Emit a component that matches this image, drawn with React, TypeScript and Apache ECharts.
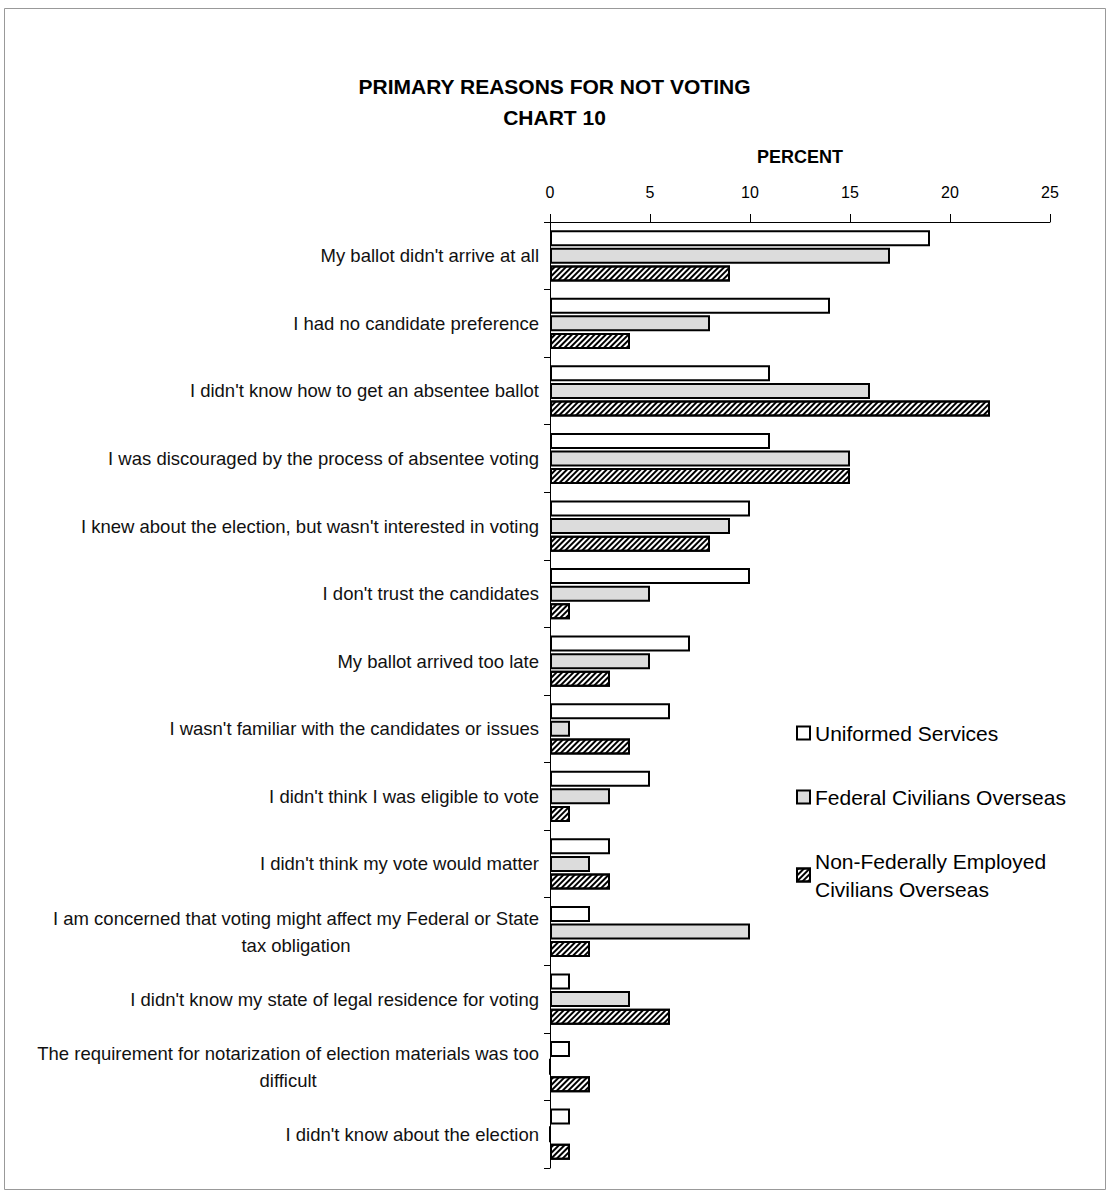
import React, { useEffect, useRef } from "react";
import * as echarts from "echarts";

const categories = [
  "My ballot didn't arrive at all",
  "I had no candidate preference",
  "I didn't know how to get an absentee ballot",
  "I was discouraged by the process of absentee voting",
  "I knew about the election, but wasn't interested in voting",
  "I don't trust the candidates",
  "My ballot arrived too late",
  "I wasn't familiar with the candidates or issues",
  "I didn't think I was eligible to vote",
  "I didn't think my vote would matter",
  "I am concerned that voting might affect my Federal or State\ntax obligation",
  "I didn't know my state of legal residence for voting",
  "The requirement for notarization of election materials was too\ndifficult",
  "I didn't know about the election",
];

const uniformed = [19, 14, 11, 11, 10, 10, 7, 6, 5, 3, 2, 1, 1, 1];
const federal = [17, 8, 16, 15, 9, 5, 5, 1, 3, 2, 10, 4, 0, 0];
const nonFederal = [9, 4, 22, 15, 8, 1, 3, 4, 1, 3, 2, 6, 2, 1];

const seriesNames = [
  "Uniformed Services",
  "Federal Civilians Overseas",
  "Non-Federally Employed Civilians Overseas",
];

const xTicks = { min: 0, max: 25, interval: 5 };

export default function App() {
  const ref = useRef<HTMLDivElement>(null);
  useEffect(() => {
    document.body.style.margin = "0";
    const chart = echarts.init(ref.current!, null, { renderer: "svg" });
    const font = "'Liberation Sans', Arial, sans-serif";
    const border = { borderColor: "#000", borderWidth: 2 };
    chart.setOption({
      animation: false,
      backgroundColor: "#fff",
      textStyle: { fontFamily: font },
      title: {
        text: "PRIMARY REASONS FOR NOT VOTING\nCHART 10",
        left: "center",
        top: 66,
        textStyle: {
          fontFamily: font,
          fontSize: 21,
          fontWeight: "bold",
          color: "#000",
          lineHeight: 31,
        },
      },
      graphic: [
        {
          type: "rect",
          shape: { x: 4.5, y: 8.5, width: 1101, height: 1181 },
          style: { fill: "none", stroke: "#999", lineWidth: 1 },
          silent: true,
        },
      ],
      legend: {
        orient: "vertical",
        left: 796,
        top: 719,
        padding: 0,
        icon: "rect",
        itemWidth: 13,
        itemHeight: 13,
        itemGap: 36,
        selectedMode: false,
        formatter: (n: string) =>
          n === seriesNames[2] ? "Non-Federally Employed\nCivilians Overseas" : n,
        textStyle: {
          fontFamily: font,
          fontSize: 21,
          color: "#000",
          lineHeight: 28,
        },
        data: seriesNames,
      },
      grid: { left: 550, top: 222, right: 59, bottom: 26, containLabel: false },
      xAxis: {
        type: "value",
        position: "top",
        min: xTicks.min,
        max: xTicks.max,
        interval: xTicks.interval,
        name: "PERCENT",
        nameLocation: "middle",
        nameGap: 56,
        nameTextStyle: { fontFamily: font, fontSize: 18, fontWeight: "bold", color: "#000" },
        axisLine: { show: true, lineStyle: { color: "#000", width: 1 } },
        axisTick: { show: true, length: 8, lineStyle: { color: "#000" } },
        axisLabel: { fontFamily: font, fontSize: 16, color: "#000", margin: 22 },
        splitLine: { show: false },
      },
      yAxis: {
        type: "category",
        inverse: true,
        data: categories,
        axisLine: { show: true, lineStyle: { color: "#000", width: 1 } },
        axisTick: { show: true, length: 6, alignWithLabel: false, lineStyle: { color: "#000" } },
        axisLabel: {
          interval: 0,
          fontFamily: font,
          fontSize: 18.5,
          color: "#111",
          margin: 11,
          lineHeight: 27,
          formatter: (v: string) =>
            v.includes("\n") ? v.split("\n").map((l) => `{c|${l}}`).join("\n") : v,
          rich: {
            c: { align: "center", fontFamily: font, fontSize: 18.5, color: "#111", lineHeight: 27 },
          },
        },
      },
      series: [
        {
          name: seriesNames[0],
          type: "bar",
          data: uniformed,
          barWidth: 16,
          barGap: "10%",
          itemStyle: { color: "#fff", ...border },
        },
        {
          name: seriesNames[1],
          type: "bar",
          data: federal,
          barWidth: 16,
          barGap: "10%",
          itemStyle: { color: "#dcdcdc", ...border },
        },
        {
          name: seriesNames[2],
          type: "bar",
          data: nonFederal,
          barWidth: 16,
          barGap: "10%",
          itemStyle: {
            color: "#fff",
            ...border,
            decal: {
              symbol: "rect",
              symbolSize: 1,
              color: "#000",
              dashArrayX: [1, 0],
              dashArrayY: [2, 2],
              rotation: -Math.PI / 4,
            },
          },
        },
      ],
    });
    return () => chart.dispose();
  }, []);
  return <div ref={ref} style={{ width: 1109, height: 1194 }} />;
}
